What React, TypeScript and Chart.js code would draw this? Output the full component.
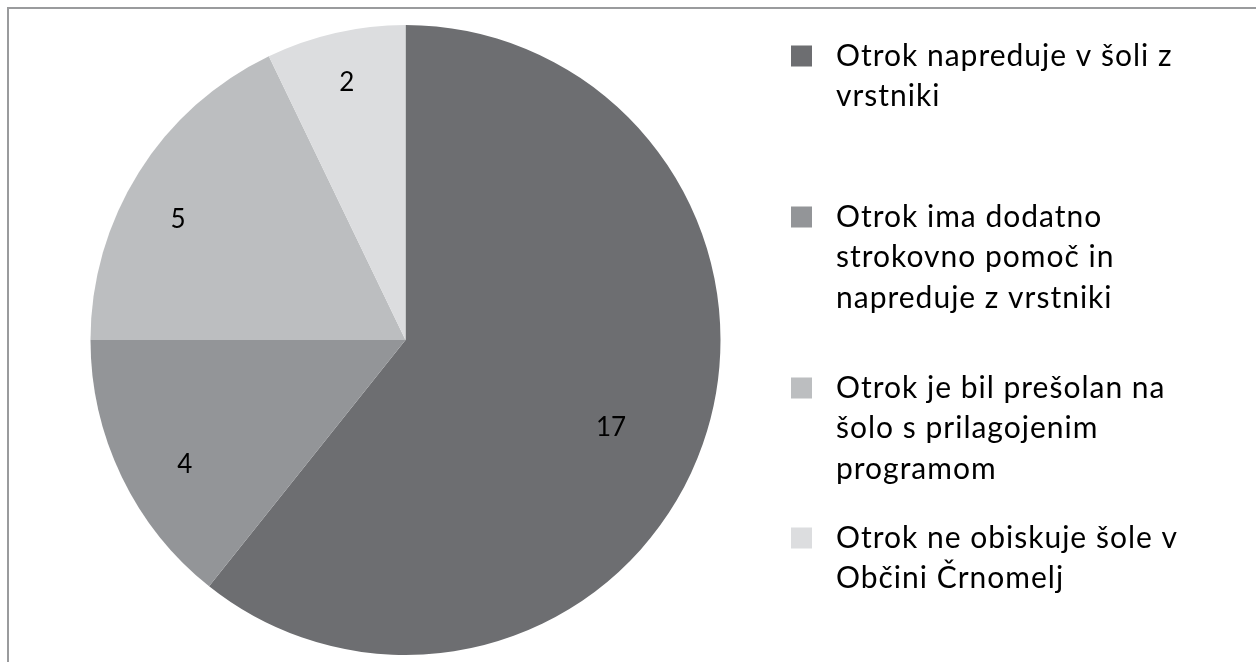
import React, { useEffect, useRef } from "react";
import { Chart, registerables } from "chart.js";

Chart.register(...registerables);

// ---- data ----
const categories = [
  "Otrok napreduje v šoli z vrstniki",
  "Otrok ima dodatno strokovno pomoč in napreduje z vrstniki",
  "Otrok je bil prešolan na šolo s prilagojenim programom",
  "Otrok ne obiskuje šole v Občini Črnomelj",
];
const values = [17, 4, 5, 2];

// ---- styles / layout ----
const sliceColors = ["#6d6e71", "#939598", "#bcbec0", "#dcdddf"];
const FONT = "Lato, 'Open Sans', sans-serif";
const LEGEND_FONT_SIZE = 30;
const LEGEND_LETTER_SPACING = "1px";
const LEGEND_LINE_H = 40.5;
const LEGEND_MAX_W = 346;
const LEGEND_TEXT_X = 836;
const LEGEND_BOX_X = 791;
const LEGEND_BOX = 21;
const legendRowCenters = [56, 217, 388, 538];
// radial fraction and angular shift (degrees) for each value label
const labelRadial = [0.709, 0.805, 0.817, 0.837];
const labelShiftDeg = [3.7, -3.8, -4.3, 0];
const LABEL_FONT_SIZE = 26;

function wrapText(ctx: CanvasRenderingContext2D, text: string, maxW: number): string[] {
  const words = text.split(" ");
  const lines: string[] = [];
  let cur = "";
  for (const w of words) {
    const test = cur ? cur + " " + w : w;
    if (cur && ctx.measureText(test).width > maxW) {
      lines.push(cur);
      cur = w;
    } else {
      cur = test;
    }
  }
  if (cur) lines.push(cur);
  return lines;
}

const framePlugin = {
  id: "frame",
  beforeDraw(chart: any) {
    const ctx = chart.ctx as CanvasRenderingContext2D;
    ctx.save();
    ctx.fillStyle = "#ffffff";
    ctx.fillRect(0, 0, chart.width, chart.height);
    ctx.fillStyle = "#9a9b9d";
    ctx.fillRect(7, 7, chart.width - 7, 2);
    ctx.fillRect(7, 7, 2, chart.height - 7);
    ctx.restore();
  },
};

const valueLabelPlugin = {
  id: "valueLabels",
  afterDatasetsDraw(chart: any) {
    const ctx = chart.ctx as CanvasRenderingContext2D;
    const meta = chart.getDatasetMeta(0);
    ctx.save();
    ctx.font = `${LABEL_FONT_SIZE}px ${FONT}`;
    ctx.fillStyle = "#000000";
    ctx.textAlign = "center";
    ctx.textBaseline = "middle";
    meta.data.forEach((arc: any, i: number) => {
      const { x, y, startAngle, endAngle, outerRadius } = arc.getProps(
        ["x", "y", "startAngle", "endAngle", "outerRadius"],
        true
      );
      const a = (startAngle + endAngle) / 2 + (labelShiftDeg[i] * Math.PI) / 180;
      const r = outerRadius * labelRadial[i];
      ctx.fillText(String(values[i]), x + Math.cos(a) * r, y + Math.sin(a) * r);
    });
    ctx.restore();
  },
};

const legendPlugin = {
  id: "sideLegend",
  afterDraw(chart: any) {
    const ctx = chart.ctx as CanvasRenderingContext2D;
    ctx.save();
    ctx.font = `${LEGEND_FONT_SIZE}px ${FONT}`;
    (ctx as any).letterSpacing = LEGEND_LETTER_SPACING;
    ctx.textBaseline = "middle";
    ctx.textAlign = "left";
    categories.forEach((cat, i) => {
      const lines = wrapText(ctx, cat, LEGEND_MAX_W);
      const y0 = legendRowCenters[i];
      ctx.fillStyle = sliceColors[i];
      ctx.fillRect(LEGEND_BOX_X, y0 - LEGEND_BOX / 2, LEGEND_BOX, LEGEND_BOX);
      ctx.fillStyle = "#000000";
      lines.forEach((ln, j) => ctx.fillText(ln, LEGEND_TEXT_X, y0 + j * LEGEND_LINE_H));
    });
    ctx.restore();
  },
};

export default function App() {
  const ref = useRef<HTMLCanvasElement | null>(null);
  useEffect(() => {
    if (!ref.current) return;
    const chart = new Chart(ref.current, {
      type: "pie",
      data: {
        labels: categories,
        datasets: [
          {
            data: values,
            backgroundColor: sliceColors,
            borderWidth: 0,
            hoverOffset: 0,
            offset: 0,
          },
        ],
      },
      options: {
        animation: false,
        responsive: false,
        events: [],
        layout: { padding: { left: 90, right: 535, top: 25, bottom: 7 } },
        plugins: {
          legend: { display: false },
          tooltip: { enabled: false },
        },
      },
      plugins: [framePlugin, valueLabelPlugin, legendPlugin],
    });
    return () => chart.destroy();
  }, []);
  return (
    <canvas
      ref={ref}
      width={1256}
      height={662}
      style={{ position: "fixed", left: 0, top: 0, width: 1256, height: 662 }}
    />
  );
}
